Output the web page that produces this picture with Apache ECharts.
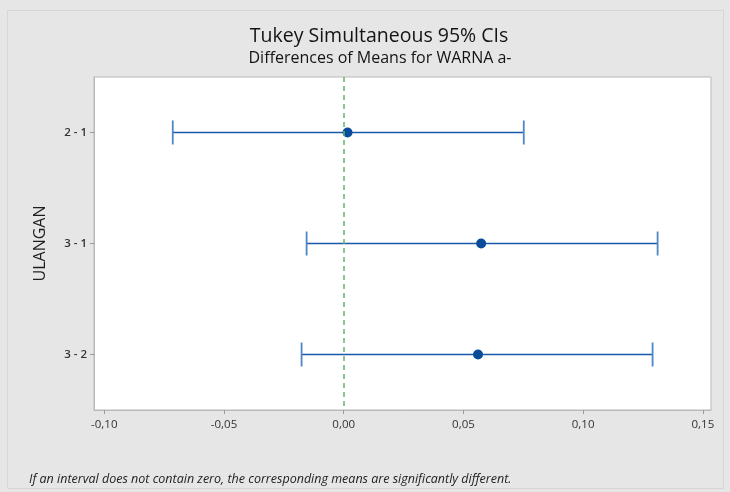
<!DOCTYPE html>
<html>
<head>
<meta charset="utf-8">
<script src="https://cdn.jsdelivr.net/npm/echarts@6/dist/echarts.min.js"></script>
<style>
html,body{margin:0;padding:0;background:#e6e6e6;}
#c{width:730px;height:492px;}
</style>
</head>
<body>
<div id="c"></div>
<script>
const comparisons = ["2 - 1", "3 - 1", "3 - 2"];
const lowerCI = [-0.0714, -0.0155, -0.0176];
const meanDiff = [0.0016, 0.0574, 0.0561];
const upperCI = [0.0752, 0.1311, 0.1290];
const xTicks = [-0.10, -0.05, 0.00, 0.05, 0.10, 0.15];
const xMin = -0.1043, xMax = 0.1534;

const FONT = '"Open Sans", "Noto Sans", sans-serif';
const chart = echarts.init(document.getElementById('c'));
const fmt = v => v.toFixed(2).replace('.', ',');

chart.setOption({
  backgroundColor: '#e6e6e6',
  animation: false,
  graphic: [{
    type: 'rect', left: 7, top: 10, z: -10,
    shape: { width: 716, height: 478 },
    style: { fill: '#e6e6e6', stroke: '#d6d6d6', lineWidth: 1 }
  }],
  title: [{
    text: 'Tukey Simultaneous 95% CIs',
    left: 374, top: 21, textAlign: 'center',
    textStyle: { fontFamily: FONT, fontSize: 19.5, fontWeight: 500, color: '#141414' }
  }, {
    text: 'Differences of Means for WARNA a-',
    left: 375, top: 45, textAlign: 'center',
    textStyle: { fontFamily: FONT, fontSize: 16, fontWeight: 500, color: '#141414' }
  }, {
    text: 'If an interval does not contain zero, the corresponding means are significantly different.',
    left: 24, top: 468,
    textStyle: { fontFamily: FONT, fontSize: 12.5, fontStyle: 'italic', fontWeight: 'normal', color: '#222' }
  }],
  grid: {
    left: 94, top: 77, right: 19, bottom: 82,
    show: true, backgroundColor: '#ffffff', borderColor: '#b9b9b9', borderWidth: 1
  },
  xAxis: {
    type: 'value', min: xMin, max: xMax,
    splitLine: { show: false },
    axisLine: { show: true, onZero: false, lineStyle: { color: '#b9b9b9', width: 1 } },
    axisTick: { show: true, length: 4, customValues: xTicks, lineStyle: { color: '#9a9a9a' } },
    axisLabel: { customValues: xTicks, formatter: fmt, margin: 9,
      fontFamily: FONT, fontSize: 11.5, color: '#333' }
  },
  yAxis: {
    type: 'category', data: comparisons, inverse: true,
    name: 'ULANGAN', nameLocation: 'middle', nameGap: 46,
    nameTextStyle: { fontFamily: FONT, fontSize: 16, color: '#1e1e1e' },
    axisLine: { show: true, onZero: false, lineStyle: { color: '#b9b9b9', width: 1 } },
    axisTick: { show: true, length: 4, alignWithLabel: true, lineStyle: { color: '#9a9a9a' } },
    axisLabel: { margin: 7, fontFamily: FONT, fontSize: 11.5, fontWeight: 600, color: '#333' },
    splitLine: { show: false }
  },
  series: [{
    type: 'custom',
    data: comparisons.map((c, i) => [lowerCI[i], upperCI[i], c]),
    encode: { x: [0, 1], y: 2 },
    renderItem: function (params, api) {
      const idx = params.dataIndex;
      const p1 = api.coord([api.value(0), idx]);
      const p2 = api.coord([api.value(1), idx]);
      const h = 12;
      const st = { stroke: '#1a59aa', lineWidth: 1.4 };
      const cap = { stroke: '#4f86c6', lineWidth: 1.8 };
      return {
        type: 'group',
        children: [
          { type: 'line', shape: { x1: p1[0], y1: p1[1], x2: p2[0], y2: p2[1] }, style: st },
          { type: 'line', shape: { x1: p1[0], y1: p1[1] - h, x2: p1[0], y2: p1[1] + h }, style: cap },
          { type: 'line', shape: { x1: p2[0], y1: p2[1] - h, x2: p2[0], y2: p2[1] + h }, style: cap }
        ]
      };
    },
    z: 2
  }, {
    type: 'scatter',
    data: meanDiff.map((m, i) => [m, comparisons[i]]),
    symbol: 'circle', symbolSize: 10,
    itemStyle: { color: '#0a4c9c', opacity: 1 },
    markLine: {
      silent: true, symbol: 'none',
      label: { show: false },
      lineStyle: { color: '#62b36b', type: [5, 4], width: 1.5 },
      data: [{ xAxis: 0 }]
    },
    z: 3
  }]
});
</script>
</body>
</html>
